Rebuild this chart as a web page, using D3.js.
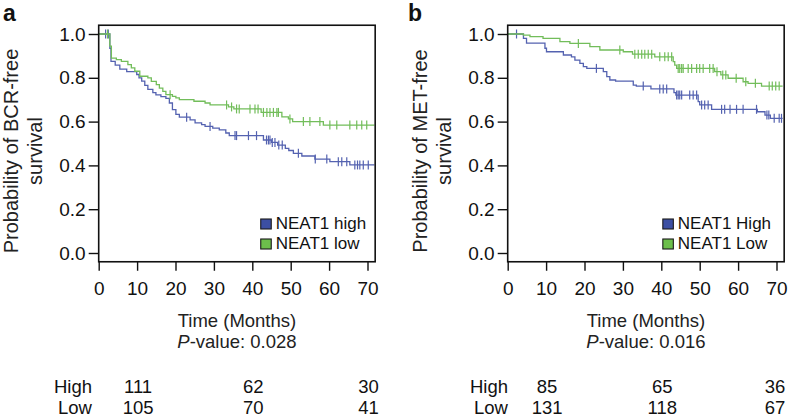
<!DOCTYPE html>
<html><head><meta charset="utf-8">
<script src="https://cdn.jsdelivr.net/npm/d3@7/dist/d3.min.js"></script>
<style>
html,body{margin:0;padding:0;background:#fff;}
svg{display:block;font-family:"Liberation Sans",Arial,Helvetica,sans-serif;}
</style></head>
<body>
<svg id="chart" width="788" height="418"></svg>
<script>
// ---------- data ----------
const xTicks = [0, 10, 20, 30, 40, 50, 60, 70];
const yTicks = [0.0, 0.2, 0.4, 0.6, 0.8, 1.0];
const riskTimes = [10, 40, 70];

// Panel a: BCR-free survival
const aHighT = [0, 2.9, 3.2, 4.3, 5.5, 7.3, 9.9, 10.5, 11.2, 12.0, 12.8, 14.1, 14.9, 16.2, 17.5, 18.4, 19.2, 20.1, 21.0, 23.8, 25.1, 26.8, 27.7, 29.7, 31.4, 33.1, 34.0, 42.9, 45.0, 46.6, 48.6, 49.5, 50.7, 52.9, 56.3, 60.2, 65.4, 71.8];
const aHighS = [1.0, 0.935, 0.875, 0.858, 0.84, 0.828, 0.815, 0.80, 0.785, 0.765, 0.747, 0.732, 0.722, 0.714, 0.706, 0.685, 0.655, 0.633, 0.62, 0.608, 0.594, 0.586, 0.578, 0.570, 0.562, 0.548, 0.536, 0.516, 0.505, 0.493, 0.478, 0.468, 0.455, 0.443, 0.429, 0.417, 0.402, 0.402];
const aHighCens = [1.8, 2.5, 22.9, 29.0, 35.5, 35.9, 39.0, 41.1, 43.7, 44.2, 44.6, 45.2, 45.9, 46.9, 47.8, 52.0, 56.4, 59.4, 62.4, 63.3, 64.6, 66.7, 67.4, 68.0, 68.9, 70.2];

const aLowT = [0, 2.9, 3.3, 4.6, 5.9, 7.6, 8.5, 9.4, 10.7, 12.8, 13.7, 15.0, 15.8, 16.7, 17.5, 19.2, 20.1, 21.0, 24.8, 27.7, 29.0, 33.8, 35.2, 42.3, 47.7, 49.4, 50.5, 58.5, 71.8];
const aLowS = [1.0, 0.945, 0.89, 0.883, 0.875, 0.86, 0.845, 0.83, 0.807, 0.80, 0.784, 0.769, 0.753, 0.738, 0.723, 0.715, 0.708, 0.70, 0.693, 0.685, 0.676, 0.667, 0.658, 0.642, 0.622, 0.612, 0.60, 0.584, 0.584];
const aLowCens = [2.3, 18.6, 33.3, 34.6, 35.9, 36.6, 39.4, 40.7, 41.5, 42.9, 43.8, 44.6, 45.5, 46.4, 46.8, 49.8, 53.3, 55.0, 57.6, 60.2, 62.0, 65.4, 67.2, 68.5, 69.8];

const aHighRisk = [111, 62, 30];
const aLowRisk = [105, 70, 41];

// Panel b: MET-free survival
const bHighT = [0, 4.1, 4.9, 9.7, 10.1, 14.5, 16.6, 17.5, 18.8, 19.7, 20.6, 24.9, 25.8, 26.6, 28.1, 32.7, 33.5, 37.3, 43.3, 43.8, 49.6, 50.0, 53.1, 65.0, 67.0, 68.4, 71.6];
const bHighS = [1.0, 0.98, 0.958, 0.935, 0.919, 0.904, 0.896, 0.881, 0.866, 0.851, 0.843, 0.828, 0.805, 0.79, 0.785, 0.767, 0.762, 0.749, 0.732, 0.721, 0.691, 0.676, 0.656, 0.645, 0.630, 0.615, 0.615];
const bHighCens = [2.3, 23.1, 35.3, 39.6, 40.5, 41.4, 44.0, 44.4, 44.8, 45.3, 47.4, 48.3, 49.2, 50.5, 51.3, 52.2, 55.7, 56.5, 57.9, 59.6, 61.3, 64.8, 67.5, 68.0, 69.4, 70.7, 71.3];

const bLowT = [0, 4.1, 5.8, 9.2, 13.6, 16.2, 21.4, 24.0, 30.1, 32.5, 38.3, 43.1, 43.5, 44.0, 53.9, 55.5, 57.4, 61.3, 62.6, 66.1, 71.6];
const bLowS = [1.0, 0.995, 0.988, 0.98, 0.965, 0.957, 0.942, 0.927, 0.919, 0.908, 0.896, 0.874, 0.858, 0.843, 0.828, 0.813, 0.798, 0.782, 0.775, 0.762, 0.762];
const bLowCens = [18.4, 29.2, 33.1, 34.0, 34.9, 35.7, 36.6, 37.5, 39.6, 40.9, 41.8, 42.7, 44.4, 44.8, 45.3, 45.7, 47.0, 47.9, 49.2, 50.0, 50.9, 52.6, 53.5, 54.5, 56.0, 56.8, 59.5, 62.0, 64.5, 68.1, 68.9, 69.8, 70.7];

const bHighRisk = [85, 65, 36];
const bLowRisk = [131, 118, 67];

// ---------- drawing ----------
const svg = d3.select("#chart");
const BLUE = "#5462b0", GREEN = "#72bd5a";
const BLUE_FILL = "#3c4fa3", GREEN_FILL = "#6cbf4b";
const FS = 19;     // tick labels
const FT = 18.5;   // titles and table

function zip(T, S) { return T.map((t, i) => ({t: t, s: S[i]})); }
function survAt(T, S, t) { let s = S[0]; for (let i = 0; i < T.length; i++) { if (T[i] <= t) s = S[i]; } return s; }

function panel(opt) {
  const g = svg.append("g");
  const x = d3.scaleLinear().domain([0, 72]).range([opt.x0, opt.x0 + 72 * 3.84]);
  const y = d3.scaleLinear().domain([0, 1]).range([253, 34]);
  const left = x(0), right = x(72), top = y(1.04), bottom = y(-0.04);

  // curves
  const line = d3.line().x(d => x(d.t)).y(d => y(d.s)).curve(d3.curveStepAfter);
  opt.series.forEach(se => {
    g.append("path").attr("d", line(zip(se.T, se.S)))
      .attr("fill", "none").attr("stroke", se.color).attr("stroke-width", 1.3);
    g.selectAll(null).data(se.cens).enter().append("line")
      .attr("x1", d => x(d)).attr("x2", d => x(d))
      .attr("y1", d => y(survAt(se.T, se.S, d)) - 4.5)
      .attr("y2", d => y(survAt(se.T, se.S, d)) + 4.5)
      .attr("stroke", se.color).attr("stroke-width", 1.2);
  });

  // box
  g.append("rect").attr("x", left).attr("y", top).attr("width", right - left).attr("height", bottom - top)
    .attr("fill", "none").attr("stroke", "#111").attr("stroke-width", 1.6);

  // y axis
  const ya = d3.axisLeft(y).tickValues(yTicks).tickFormat(d3.format(".1f")).tickSize(10).tickPadding(3);
  const yg = g.append("g").attr("transform", `translate(${left},0)`).call(ya);
  yg.select(".domain").remove();
  yg.selectAll(".tick line").attr("stroke", "#111").attr("stroke-width", 1.4);
  yg.selectAll(".tick text").attr("font-size", FS).attr("fill", "#111").style("font-family", "Liberation Sans, Arial, sans-serif");

  // x axis
  const xa = d3.axisBottom(x).tickValues(xTicks).tickSize(9).tickPadding(11);
  const xg = g.append("g").attr("transform", `translate(0,${bottom})`).call(xa);
  xg.select(".domain").remove();
  xg.selectAll(".tick line").attr("stroke", "#111").attr("stroke-width", 1.4);
  xg.selectAll(".tick text").attr("font-size", FS).attr("fill", "#111").style("font-family", "Liberation Sans, Arial, sans-serif");

  // panel letter
  g.append("text").attr("x", opt.letterX).attr("y", 21).attr("font-size", 23).attr("font-weight", "bold")
    .attr("fill", "#111").text(opt.letter);

  // y label (two lines)
  const cy = 151;
  g.append("text").attr("transform", `translate(${opt.x0 - 81},${cy}) rotate(-90)`)
    .attr("text-anchor", "middle").attr("font-size", FS + 1).attr("fill", "#222").text(opt.ylab1);
  g.append("text").attr("transform", `translate(${opt.x0 - 56.5},${cy}) rotate(-90)`)
    .attr("text-anchor", "middle").attr("font-size", FS + 1).attr("fill", "#222").text(opt.ylab2);

  // x title and p-value
  const cx = (left + right) / 2;
  g.append("text").attr("x", cx).attr("y", 327).attr("text-anchor", "middle")
    .attr("font-size", FT).attr("fill", "#222").text("Time (Months)");
  const pv = g.append("text").attr("x", cx).attr("y", 348).attr("text-anchor", "middle")
    .attr("font-size", FT).attr("fill", "#222");
  pv.append("tspan").attr("font-style", "italic").text("P");
  pv.append("tspan").text("-value: " + opt.p);

  // legend
  const lx = x(opt.legendT);
  opt.series.forEach((se, i) => {
    g.append("rect").attr("x", lx).attr("y", 219 + i * 20).attr("width", 10.5).attr("height", 10)
      .attr("fill", se.fill).attr("stroke", "#1a1a1a").attr("stroke-width", 1.1);
    g.append("text").attr("x", lx + 15).attr("y", 229 + i * 20).attr("font-size", 17)
      .attr("fill", "#111").text(se.name);
  });

  // number at risk table
  opt.series.forEach((se, i) => {
    const yy = 393 + i * 21;
    g.append("text").attr("x", opt.rowLabelX).attr("y", yy).attr("text-anchor", "end")
      .attr("font-size", FT).attr("fill", "#111").text(se.row);
    g.selectAll(null).data(riskTimes).enter().append("text")
      .attr("x", (d) => Math.min(x(d) + 1, 775)).attr("y", yy).attr("text-anchor", "middle")
      .attr("font-size", FT).attr("fill", "#111").text((d, j) => se.risk[j]);
  });
}

panel({
  x0: 98.7, letter: "a", letterX: 3, ylab1: "Probability of BCR-free", ylab2: "survival",
  p: "0.028", legendT: 42.2, rowLabelX: 92,
  series: [
    {T: aHighT, S: aHighS, cens: aHighCens, color: BLUE, fill: BLUE_FILL, name: "NEAT1 high", row: "High", risk: aHighRisk},
    {T: aLowT, S: aLowS, cens: aLowCens, color: GREEN, fill: GREEN_FILL, name: "NEAT1 low", row: "Low", risk: aLowRisk}
  ]
});
panel({
  x0: 507.7, letter: "b", letterX: 408, ylab1: "Probability of MET-free", ylab2: "survival",
  p: "0.016", legendT: 40.4, rowLabelX: 508,
  series: [
    {T: bHighT, S: bHighS, cens: bHighCens, color: BLUE, fill: BLUE_FILL, name: "NEAT1 High", row: "High", risk: bHighRisk},
    {T: bLowT, S: bLowS, cens: bLowCens, color: GREEN, fill: GREEN_FILL, name: "NEAT1 Low", row: "Low", risk: bLowRisk}
  ]
});
</script>
</body></html>
